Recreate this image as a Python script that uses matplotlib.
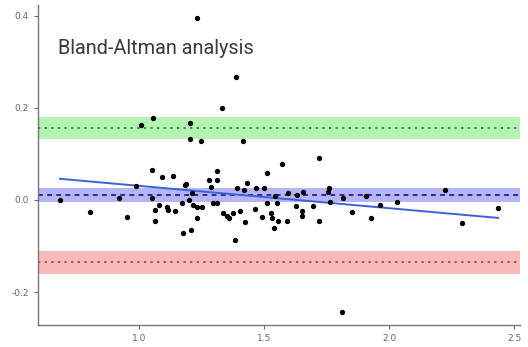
import numpy as np
import matplotlib
matplotlib.use('Agg')
import matplotlib.pyplot as plt

# points (mean, difference)
px = [1.232, 1.388, 1.332, 1.056, 1.008, 1.204, 1.204, 1.248, 1.416,
      1.052, 1.092, 1.136, 1.280, 1.312, 1.312, 1.184, 0.988, 1.188,
      0.684, 0.920, 1.052, 1.212, 0.804, 0.952, 1.064, 1.064, 1.080,
      1.112, 1.116, 1.144, 1.172, 1.200, 1.216, 1.232, 1.252, 1.296,
      1.312, 1.232, 1.176, 1.208, 1.336, 1.352, 1.360, 1.376, 1.404,
      1.384, 1.392, 1.420, 1.432, 1.424, 1.288, 1.464, 1.468, 1.500,
      1.492, 1.512, 1.512, 1.572, 1.720, 1.544, 1.552, 1.528, 1.532,
      1.556, 1.540, 1.592, 1.596, 1.628, 1.632, 1.652, 1.656, 1.652,
      1.696, 1.720, 1.760, 1.756, 1.764, 1.816, 1.852, 1.908, 1.928,
      1.964, 2.032, 2.224, 2.292, 2.436, 1.812]
py = [0.396, 0.267, 0.200, 0.178, 0.163, 0.167, 0.133, 0.128, 0.128,
      0.065, 0.050, 0.052, 0.043, 0.062, 0.043, 0.033, 0.030, 0.035,
      0.000, 0.004, 0.004, 0.015, -0.026, -0.037, -0.022, -0.046, -0.011,
      -0.015, -0.022, -0.024, -0.007, 0.000, -0.011, -0.015, -0.015, -0.007,
      -0.007, -0.039, -0.072, -0.065, -0.028, -0.035, -0.039, -0.028, -0.024,
      -0.087, 0.026, 0.022, 0.037, -0.048, 0.028, -0.020, 0.026, 0.026,
      -0.037, 0.059, -0.007, 0.078, 0.091, 0.009, -0.007, -0.028, -0.039,
      -0.046, -0.061, -0.046, 0.015, -0.013, 0.011, -0.024, 0.017, -0.035,
      -0.013, -0.046, 0.026, 0.017, -0.004, 0.004, -0.026, 0.009, -0.039,
      -0.011, -0.004, 0.022, -0.050, -0.017, -0.243]

# limits of agreement: (centre, low, high)
upper_loa = (0.157, 0.133, 0.180)
mean_bias = (0.011, -0.004, 0.026)
lower_loa = (-0.135, -0.161, -0.111)

# fitted trend line ends
fit_x = [0.684, 2.436]
fit_y = [0.046, -0.039]

xticks = [1.0, 1.5, 2.0, 2.5]
yticks = [-0.2, 0.0, 0.2, 0.4]

fig = plt.figure(figsize=(5.28, 3.47), dpi=100)
ax = fig.add_axes([0.072, 0.063, 0.913, 0.923])

bands = [(upper_loa, '#9df09d', '#2f9a2f', (0, (1.2, 2.2))),
         (mean_bias, '#9c9cf2', '#2a2aa0', (0, (2.5, 2.2))),
         (lower_loa, '#f5a3a3', '#c04848', (0, (1.2, 2.2)))]
for (c, lo, hi), fill, lc, ls in bands:
    ax.axhspan(lo, hi, color=fill, alpha=0.75, lw=0)
    ax.axhline(c, color=lc, lw=1.4, ls=ls)

ax.plot(fit_x, fit_y, color='#3b62d6', lw=1.4)
ax.scatter(px, py, s=8, color='black', zorder=3)

ax.text(0.675, 0.33, 'Bland-Altman analysis', fontsize=14.3, color='#3a3a3a',
        family=['Roboto', 'DejaVu Sans'], va='center')

ax.set_xlim(0.596, 2.524)
ax.set_ylim(-0.272, 0.424)
ax.set_xticks(xticks)
ax.set_yticks(yticks)
ax.set_xticklabels(['1.0', '1.5', '2.0', '2.5'])
ax.set_yticklabels(['-0.2', '0.0', '0.2', '0.4'])
ax.tick_params(labelsize=6.5, colors='#666666', length=3, width=0.8)
for s in ['top', 'right']:
    ax.spines[s].set_visible(False)
for s in ['left', 'bottom']:
    ax.spines[s].set_color('#777777')
    ax.spines[s].set_linewidth(1.0)

fig.savefig('out.png', dpi=100)
